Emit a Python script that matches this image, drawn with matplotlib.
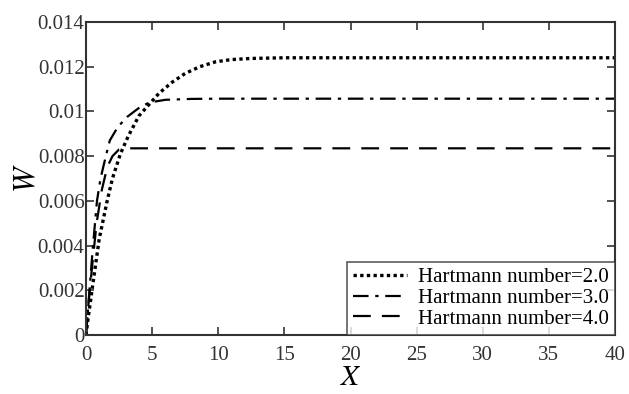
import matplotlib.pyplot as plt

plt.rcParams['font.family'] = ['Liberation Serif', 'DejaVu Serif']
plt.rcParams['mathtext.fontset'] = 'stix'

# Hartmann number = 2.0
x_ha2 = [0, 0.15, 0.5, 1.0, 1.6, 2.0, 2.6, 3.2, 4.0, 4.9, 5.5, 6.5, 7.5, 8.6, 9.8, 11.0, 12.5, 15, 20, 25, 30, 35, 40]
w_ha2 = [0, 0.0007, 0.0022, 0.0043, 0.0060, 0.0070, 0.0081, 0.0089, 0.0098, 0.0104, 0.0108, 0.0113, 0.0117, 0.0120, 0.01222, 0.01232, 0.01237, 0.0124, 0.0124, 0.0124, 0.0124, 0.0124, 0.0124]

# Hartmann number = 3.0
x_ha3 = [0, 0.2, 0.5, 0.83, 1.1, 1.5, 1.8, 2.4, 3.1, 4.1, 4.8, 6.0, 8.0, 10, 15, 20, 25, 30, 35, 40]
w_ha3 = [0, 0.0015, 0.0038, 0.0060, 0.0070, 0.0080, 0.0087, 0.0093, 0.00975, 0.0102, 0.0104, 0.01052, 0.01056, 0.01057, 0.01057, 0.01057, 0.01057, 0.01057, 0.01057, 0.01057]

# Hartmann number = 4.0
x_ha4 = [0, 0.2, 0.45, 0.8, 1.2, 1.6, 2.0, 2.5, 3.0, 5, 10, 20, 30, 40]
w_ha4 = [0, 0.0015, 0.0030, 0.0050, 0.0065, 0.0075, 0.0080, 0.0083, 0.00835, 0.00835, 0.00835, 0.00835, 0.00835, 0.00835]

fig = plt.figure(figsize=(6.29, 3.94), dpi=100)
ax = fig.add_axes([86 / 629, 59 / 394, 529 / 629, 313 / 394])

ax.plot(x_ha2, w_ha2, color='black', lw=2.4, linestyle=(0, (1, 1)), label='Hartmann number=2.0')
ax.plot(x_ha3, w_ha3, color='black', lw=1.6, linestyle=(0, (7, 3, 1.5, 3)), label='Hartmann number=3.0')
ax.plot(x_ha4, w_ha4, color='black', lw=1.6, linestyle=(0, (8, 5)), label='Hartmann number=4.0')

ax.set_xlim(0, 40)
ax.set_ylim(0, 0.014)
ax.set_xticks([0, 5, 10, 15, 20, 25, 30, 35, 40])
ax.set_yticks([0, 0.002, 0.004, 0.006, 0.008, 0.01, 0.012, 0.014])
ax.set_yticklabels(['0', '0.002', '0.004', '0.006', '0.008', '0.01', '0.012', '0.014'])
ax.tick_params(direction='in', top=True, right=True, labelsize=15, length=6, width=1.2, colors='#333333', labelcolor='#333333')
ax.tick_params(axis='x', pad=8)
ax.tick_params(axis='y', pad=1)
for s in ax.spines.values():
    s.set_linewidth(1.5)
    s.set_color('#333333')

ax.set_xlabel('$X$', fontsize=21, labelpad=0)
ax.set_ylabel('$W$', fontsize=22, labelpad=-3)

leg = ax.legend(loc='lower right', fontsize=15, frameon=True, fancybox=False, borderaxespad=0,
                handlelength=2.6, labelspacing=0.05, borderpad=0.3, handletextpad=0.5)
leg.get_frame().set_edgecolor('#333333')
leg.get_frame().set_linewidth(1.2)

plt.savefig('out.png', dpi=100)
